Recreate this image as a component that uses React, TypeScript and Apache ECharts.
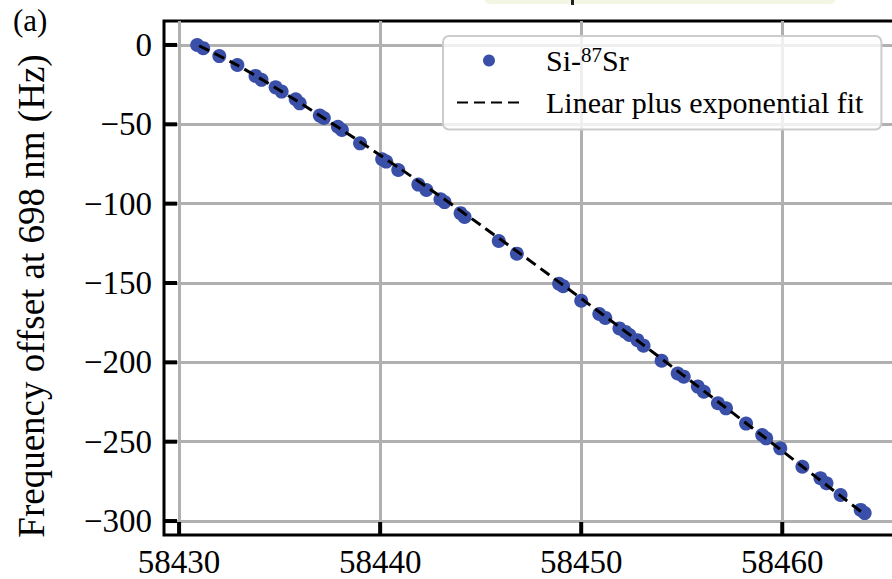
import React, { useEffect, useRef } from "react";
import * as echarts from "echarts";

// Measured Si-87Sr cavity frequency offsets (MJD, Hz)
const mjd = [
  58430.9, 58431.2, 58432.0, 58432.9, 58433.8, 58434.1, 58434.8, 58435.1, 58435.8, 58436.0,
  58437.0, 58437.2, 58437.9, 58438.1, 58439.0, 58440.1, 58440.3, 58440.9, 58441.9, 58442.3,
  58443.0, 58443.2, 58444.0, 58444.2, 58445.9, 58446.8, 58448.9, 58449.1, 58450.0, 58450.9,
  58451.2, 58451.9, 58452.2, 58452.4, 58452.8, 58453.1, 58454.0, 58454.8, 58455.1, 58455.8,
  58456.1, 58456.8, 58457.2, 58458.2, 58459.0, 58459.2, 58459.9, 58461.0, 58461.9, 58462.2,
  58462.9, 58463.9, 58464.1,
];
const offsetHz = [
  0, -2, -7, -12.6, -19.5, -22, -26.7, -29.4, -34.2, -36.8,
  -44.5, -46, -51.5, -53.6, -62, -72, -73.5, -78.8, -88, -91.4,
  -97.2, -99, -106, -108.4, -123.5, -131.5, -150.5, -152, -161.2, -169.5,
  -172, -178.6, -180.8, -182.8, -186, -189.5, -199, -207, -209, -215.3,
  -218.5, -225.8, -229, -238.6, -245.8, -247.9, -254.2, -265.8, -273, -276.2,
  -283.6, -293, -295,
];

// Linear plus exponential fit, sampled along the data span
const fitMjd = [
  58431, 58433, 58435, 58437, 58439, 58441, 58443, 58445, 58447, 58449,
  58451, 58453, 58455, 58457, 58459, 58461, 58463, 58464,
];
const fitHz = [
  -0.5, -13.5, -28.5, -44.5, -61, -78, -95.5, -113.5, -131.8, -150.4,
  -169.2, -188.2, -207.4, -226.7, -246.1, -265.6, -285.1, -294.9,
];

// Major tick positions
const xTicks = [58430, 58440, 58450, 58460];
const yTicks = [-300, -250, -200, -150, -100, -50, 0];

const X_MIN = 58429.25;
const X_MAX = 58467;
const Y_MIN = -308.8;
const Y_MAX = 15.1;

const FONT = "Liberation Serif";
const DOT = "#3a4fa8";
const DATA_NAME = "Si-87Sr";
const FIT_NAME = "Linear plus exponential fit";
const TICK_LEN = 13;
const TICK_W = 4;

export default function App() {
  const ref = useRef<HTMLDivElement>(null);

  useEffect(() => {
    if (!ref.current) return;
    const chart = echarts.init(ref.current, undefined, { renderer: "svg" });
    const pts = mjd.map((x, i) => [x, offsetHz[i]]);
    const fit = fitMjd.map((x, i) => [x, fitHz[i]]);
    const gridStyle = { color: "#b0b0b0", width: 3 };

    chart.setOption({
      animation: false,
      backgroundColor: "#ffffff",
      textStyle: { fontFamily: FONT },
      grid: {
        left: 164,
        top: 21,
        bottom: 44,
        right: 37,
        show: true,
        borderColor: "#000000",
        borderWidth: 3,
        backgroundColor: "transparent",
      },
      xAxis: {
        type: "value",
        min: X_MIN,
        max: X_MAX,
        splitNumber: 5,
        axisLine: { show: false, onZero: false },
        axisTick: { show: false },
        axisLabel: {
          showMinLabel: false,
          showMaxLabel: false,
          margin: 10,
          fontFamily: FONT,
          fontSize: 33,
          color: "#000",
          formatter: (v: number) => String(v),
        },
        splitLine: { show: true, showMinLine: false, showMaxLine: false, lineStyle: gridStyle },
      },
      yAxis: {
        type: "value",
        min: Y_MIN,
        max: Y_MAX,
        splitNumber: 5,
        name: "Frequency offset at 698 nm (Hz)",
        nameLocation: "middle",
        nameGap: 114,
        nameTextStyle: {
          fontFamily: FONT,
          fontSize: 37,
          color: "#000",
          padding: [0, 36, 0, 0],
        },
        axisLine: { show: false, onZero: false },
        axisTick: { show: false },
        axisLabel: {
          showMinLabel: false,
          showMaxLabel: false,
          margin: 12,
          fontFamily: FONT,
          fontSize: 33,
          color: "#000",
          formatter: (v: number) => (v < 0 ? "\u2212" + Math.abs(v) : String(v)),
        },
        splitLine: { show: true, showMinLine: false, showMaxLine: false, lineStyle: gridStyle },
      },
      legend: {
        orient: "vertical",
        left: 443,
        top: 36,
        padding: [8, 18, 12, 13],
        itemWidth: 64,
        itemHeight: 12,
        itemGap: 12,
        backgroundColor: "rgba(255,255,255,0.8)",
        borderColor: "#cccccc",
        borderWidth: 2,
        borderRadius: 6,
        data: [
          { name: DATA_NAME, icon: "circle" },
          { name: FIT_NAME, itemStyle: { opacity: 0 } },
        ],
        formatter: (name: string) => (name === DATA_NAME ? "Si-{sup|87}Sr" : name),
        textStyle: {
          fontFamily: FONT,
          fontSize: 30,
          color: "#000",
          padding: [0, 0, 0, 20],
          rich: {
            sup: {
              fontFamily: FONT,
              fontSize: 21,
              color: "#000",
              verticalAlign: "top",
              padding: [0, 0, 12, 0],
            },
          },
        },
      },
      series: [
        {
          name: DATA_NAME,
          type: "scatter",
          data: pts,
          symbol: "circle",
          symbolSize: 14,
          itemStyle: { color: DOT, opacity: 1 },
          z: 2,
        },
        {
          name: FIT_NAME,
          type: "line",
          data: fit,
          showSymbol: false,
          symbol: "none",
          smooth: 0.3,
          lineStyle: { color: "#000", width: 3, type: [11, 6] },
          itemStyle: { color: "#000" },
          z: 3,
        },
      ],
    });

    // Inward major ticks as filled bars, positioned with the grid's value-to-pixel mapping
    const toPx = (v: number[]) => chart.convertToPixel({ xAxisIndex: 0, yAxisIndex: 0 }, v) as number[];
    const xTickEls = xTicks.map((v) => {
      const p = toPx([v, Y_MIN]);
      return {
        type: "rect",
        z: 100,
        silent: true,
        shape: { x: p[0] - TICK_W / 2, y: p[1] - TICK_LEN, width: TICK_W, height: TICK_LEN },
        style: { fill: "#000000" },
      };
    });
    const yTickEls = yTicks.map((v) => {
      const p = toPx([X_MIN, v]);
      return {
        type: "rect",
        z: 100,
        silent: true,
        shape: { x: p[0], y: p[1] - TICK_W / 2, width: TICK_LEN, height: TICK_W },
        style: { fill: "#000000" },
      };
    });

    chart.setOption({
      graphic: [
        {
          type: "text",
          left: 13,
          top: 5,
          style: { text: "(a)", fontFamily: FONT, fontSize: 31, fill: "#000" },
        },
        {
          type: "rect",
          shape: { x: 484, y: -12, width: 352, height: 16, r: 6 },
          style: { fill: "#f4f6e4" },
          silent: true,
        },
        {
          type: "rect",
          shape: { x: 571, y: 0, width: 3, height: 5 },
          style: { fill: "#222" },
          silent: true,
        },
        ...xTickEls,
        ...yTickEls,
      ],
    });

    return () => chart.dispose();
  }, []);

  return (
    <div
      style={{
        position: "fixed",
        left: 0,
        top: 0,
        width: 892,
        height: 579,
        overflow: "hidden",
        background: "#fff",
      }}
    >
      <div ref={ref} style={{ width: 960, height: 579 }} />
    </div>
  );
}
